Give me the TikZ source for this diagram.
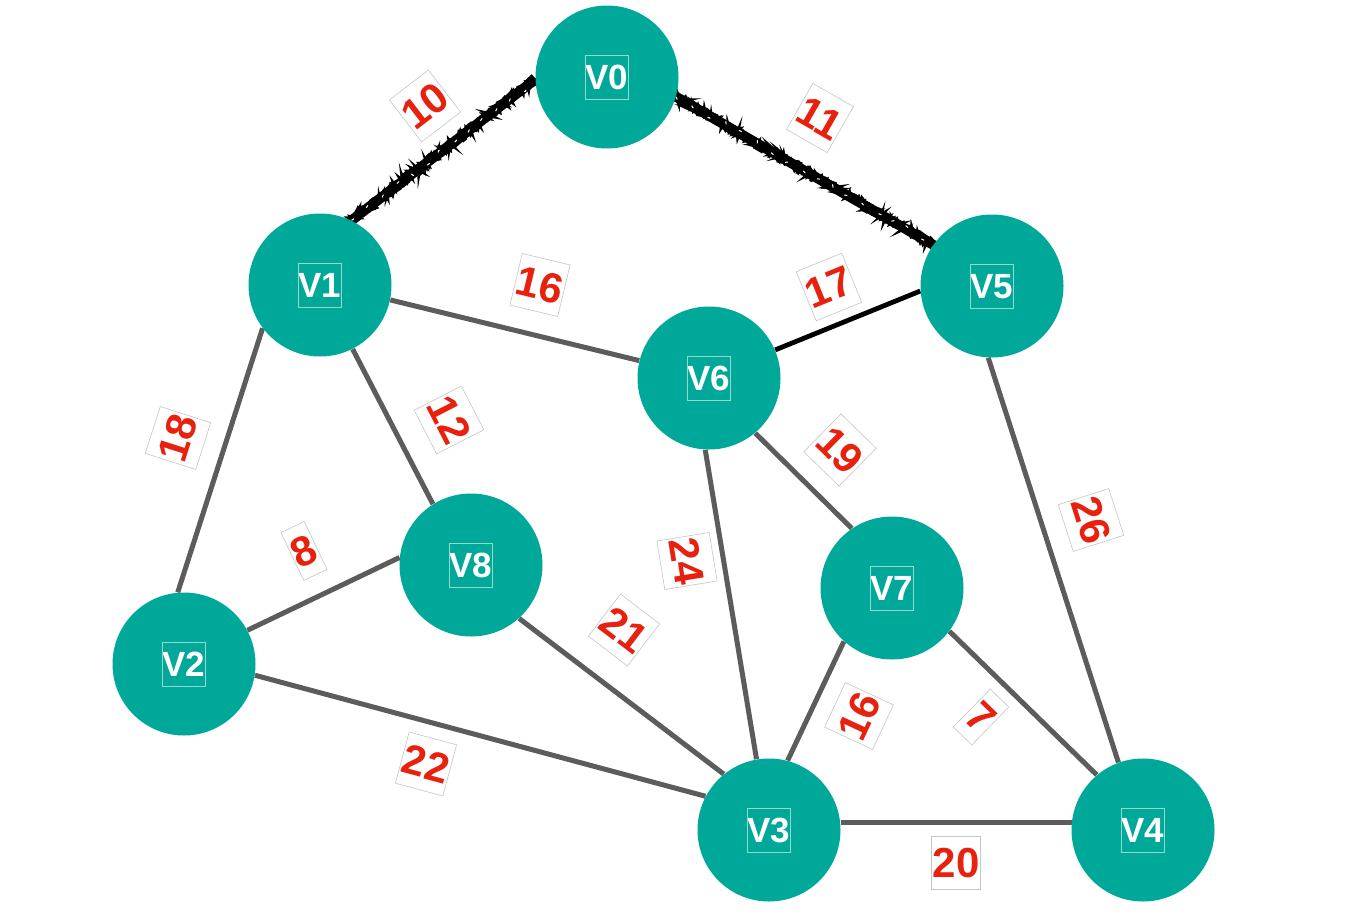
\documentclass[tikz,border=0pt]{standalone}
\usepackage{fontspec}
\setmainfont{Liberation Sans}
\usetikzlibrary{decorations.pathmorphing}
\definecolor{tealc}{RGB}{0,168,154}
\definecolor{redc}{RGB}{232,32,14}
\definecolor{edgec}{RGB}{92,92,92}
\definecolor{vboxc}{RGB}{150,215,206}
\pgfdeclarelayer{bg}
\pgfdeclarelayer{paper}
\pgfsetlayers{paper,bg,main}
\newcommand\vtxt[1]{{\setlength{\fboxsep}{0pt}\setlength{\fboxrule}{0.35pt}\fcolorbox{vboxc}{tealc}{\rule[-0.26em]{0pt}{1.23em}#1}}}
\begin{document}
\begin{tikzpicture}[x=0.5pt,y=-0.5pt,
  vert/.style={circle, fill=tealc, minimum size=71.5pt, inner sep=0pt, text=white,
    font=\fontsize{17.5}{20}\selectfont\bfseries},
  elab/.style={draw=gray!45, line width=0.3pt, fill=white, text=redc,
    font=\fontsize{21}{24}\selectfont\bfseries, inner xsep=0.6pt, inner ysep=0pt,
    text height=20.5pt, text depth=6pt},
  plain/.style={draw=edgec, line width=2.5pt},
  dark/.style={draw=black, line width=2.4pt},
  roughbase/.style={draw=black, line width=5pt},
  roughjag/.style={draw=black, line width=1.5pt, decorate,
    decoration={random steps, segment length=1.2pt, amplitude=2.4pt}},
  roughspeck/.style={draw=white, line width=0.5pt, dash pattern=on 1.5pt off 9pt, decorate,
    decoration={random steps, segment length=3pt, amplitude=1.8pt}}
]
\begin{pgfonlayer}{paper}
\fill[white] (0,0) rectangle (1366,916);
\end{pgfonlayer}
\useasboundingbox (0,0) rectangle (1366,916);
\pgfmathsetseed{7}

% vertices
\node[vert] (V0) at (607,77)  {\vtxt{V0}};
\node[vert] (V1) at (320,285) {\vtxt{V1}};
\node[vert] (V5) at (992,286) {\vtxt{V5}};
\node[vert] (V6) at (709,378) {\vtxt{V6}};
\node[vert] (V8) at (471,565) {\vtxt{V8}};
\node[vert] (V7) at (892,588) {\vtxt{V7}};
\node[vert] (V2) at (184,664) {\vtxt{V2}};
\node[vert] (V3) at (769,830) {\vtxt{V3}};
\node[vert] (V4) at (1143,830) {\vtxt{V4}};

% edges
\begin{pgfonlayer}{bg}
  \draw[roughbase] (V1.64) -- (V0.182);
  \foreach \i in {1,...,4} { \draw[roughjag] (V1.64) -- (V0.182); }
  \draw[roughspeck] (V1.64) -- (V0.182);
  \draw[roughbase] (V0.-16) -- (V5.145);
  \foreach \i in {1,...,4} { \draw[roughjag] (V0.-16) -- (V5.145); }
  \draw[roughspeck] (V0.-16) -- (V5.145);
  \draw[plain] (V1.-12) -- (V6.166);
  \draw[dark]  (V6.23) -- (V5.184);
  \draw[plain] (V1.217) -- (V2.95);
  \draw[plain] (V1.297) -- (V8.122);
  \draw[plain] (V2.28) -- (V8.174);
  \draw[plain] (V2.-9) -- (V3.152);
  \draw[plain] (V8.-48) -- (V3.129);
  \draw[plain] (V6.267) -- (V3.100);
  \draw[plain] (V6.-50) -- (V7.124);
  \draw[plain] (V7.228) -- (V3.75);
  \draw[plain] (V7.-37) -- (V4.130);
  \draw[plain] (V5.267) -- (V4.110);
  \draw[plain] (V3.6) -- (V4.174);
\end{pgfonlayer}

% edge weights
\node[elab, rotate=37.5]  (w01) at (425,106) {10};
\node[elab, rotate=-29.8] (w05) at (820,118) {11};
\node[elab, rotate=-13.5] (w16) at (540,285) {16};
\node[elab, rotate=22.2]  (w65) at (829,287) {17};
\node[elab, rotate=72.3]  (w12) at (178,438) {18};
\node[elab, rotate=-62.8] (w18) at (449,420) {12};
\node[elab, rotate=25.6]  (w28) at (304,551) {8};
\node[elab, rotate=-15.1] (w23) at (426,764) {22};
\node[elab, rotate=-37.4] (w83) at (624,630) {21};
\node[elab, rotate=-80.7] (w63) at (687,561) {24};
\node[elab, rotate=-44.4] (w67) at (840,450) {19};
\node[elab, rotate=65]    (w73) at (859,716) {16};
\node[elab, rotate=-44.2] (w74) at (981,717) {7};
\node[elab, rotate=-72.2] (w54) at (1091,520) {26};
\node[elab]               (w34) at (956,863) {20};
\end{tikzpicture}
\end{document}
